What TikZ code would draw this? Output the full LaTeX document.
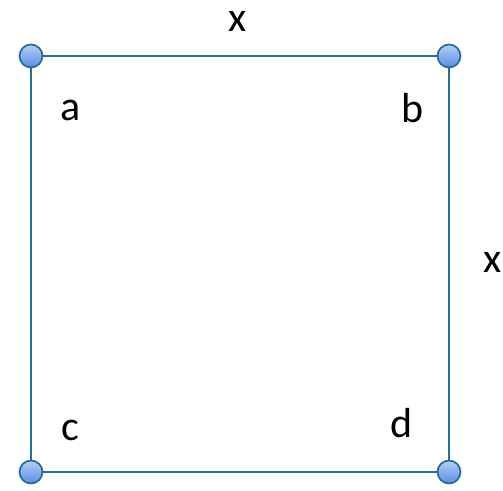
\documentclass[tikz,border=0pt]{standalone}
\usepackage{fontspec}
\setmainfont{Carlito}
\definecolor{edgeblue}{HTML}{2C6D93}
\definecolor{ringblue}{HTML}{1F6696}
\definecolor{dottop}{HTML}{B4CDF5}
\definecolor{dotbot}{HTML}{5A8CE0}
\tikzset{
  side/.style={draw=edgeblue, line width=1.8pt},
  vertexdot/.style={circle, minimum size=23pt, inner sep=0pt, draw=ringblue, line width=1.6pt, top color=dottop, bottom color=dotbot},
  lbl/.style={anchor=base, inner sep=0pt, font=\fontsize{42}{42}\selectfont}
}
\begin{document}
\begin{tikzpicture}[x=1pt, y=-1pt]
\useasboundingbox (0,0) rectangle (503,490);
\coordinate (A) at (31,56);
\coordinate (B) at (449,56);
\coordinate (C) at (31,472);
\coordinate (D) at (449,472);
\draw[side] (A) -- (B) -- (D) -- (C) -- cycle;
\node[vertexdot] (va) at (A) {};
\node[vertexdot] (vb) at (B) {};
\node[vertexdot] (vc) at (C) {};
\node[vertexdot] (vd) at (D) {};
\node[lbl] (lx1) at (238,31) {x};
\node[lbl] (la) at (70.5,120) {a};
\node[lbl] (lb) at (413,122) {b};
\node[lbl] (lx2) at (493,272) {x};
\node[lbl] (lc) at (70,440) {c};
\node[lbl] (ld) at (402,437) {d};
\end{tikzpicture}
\end{document}
